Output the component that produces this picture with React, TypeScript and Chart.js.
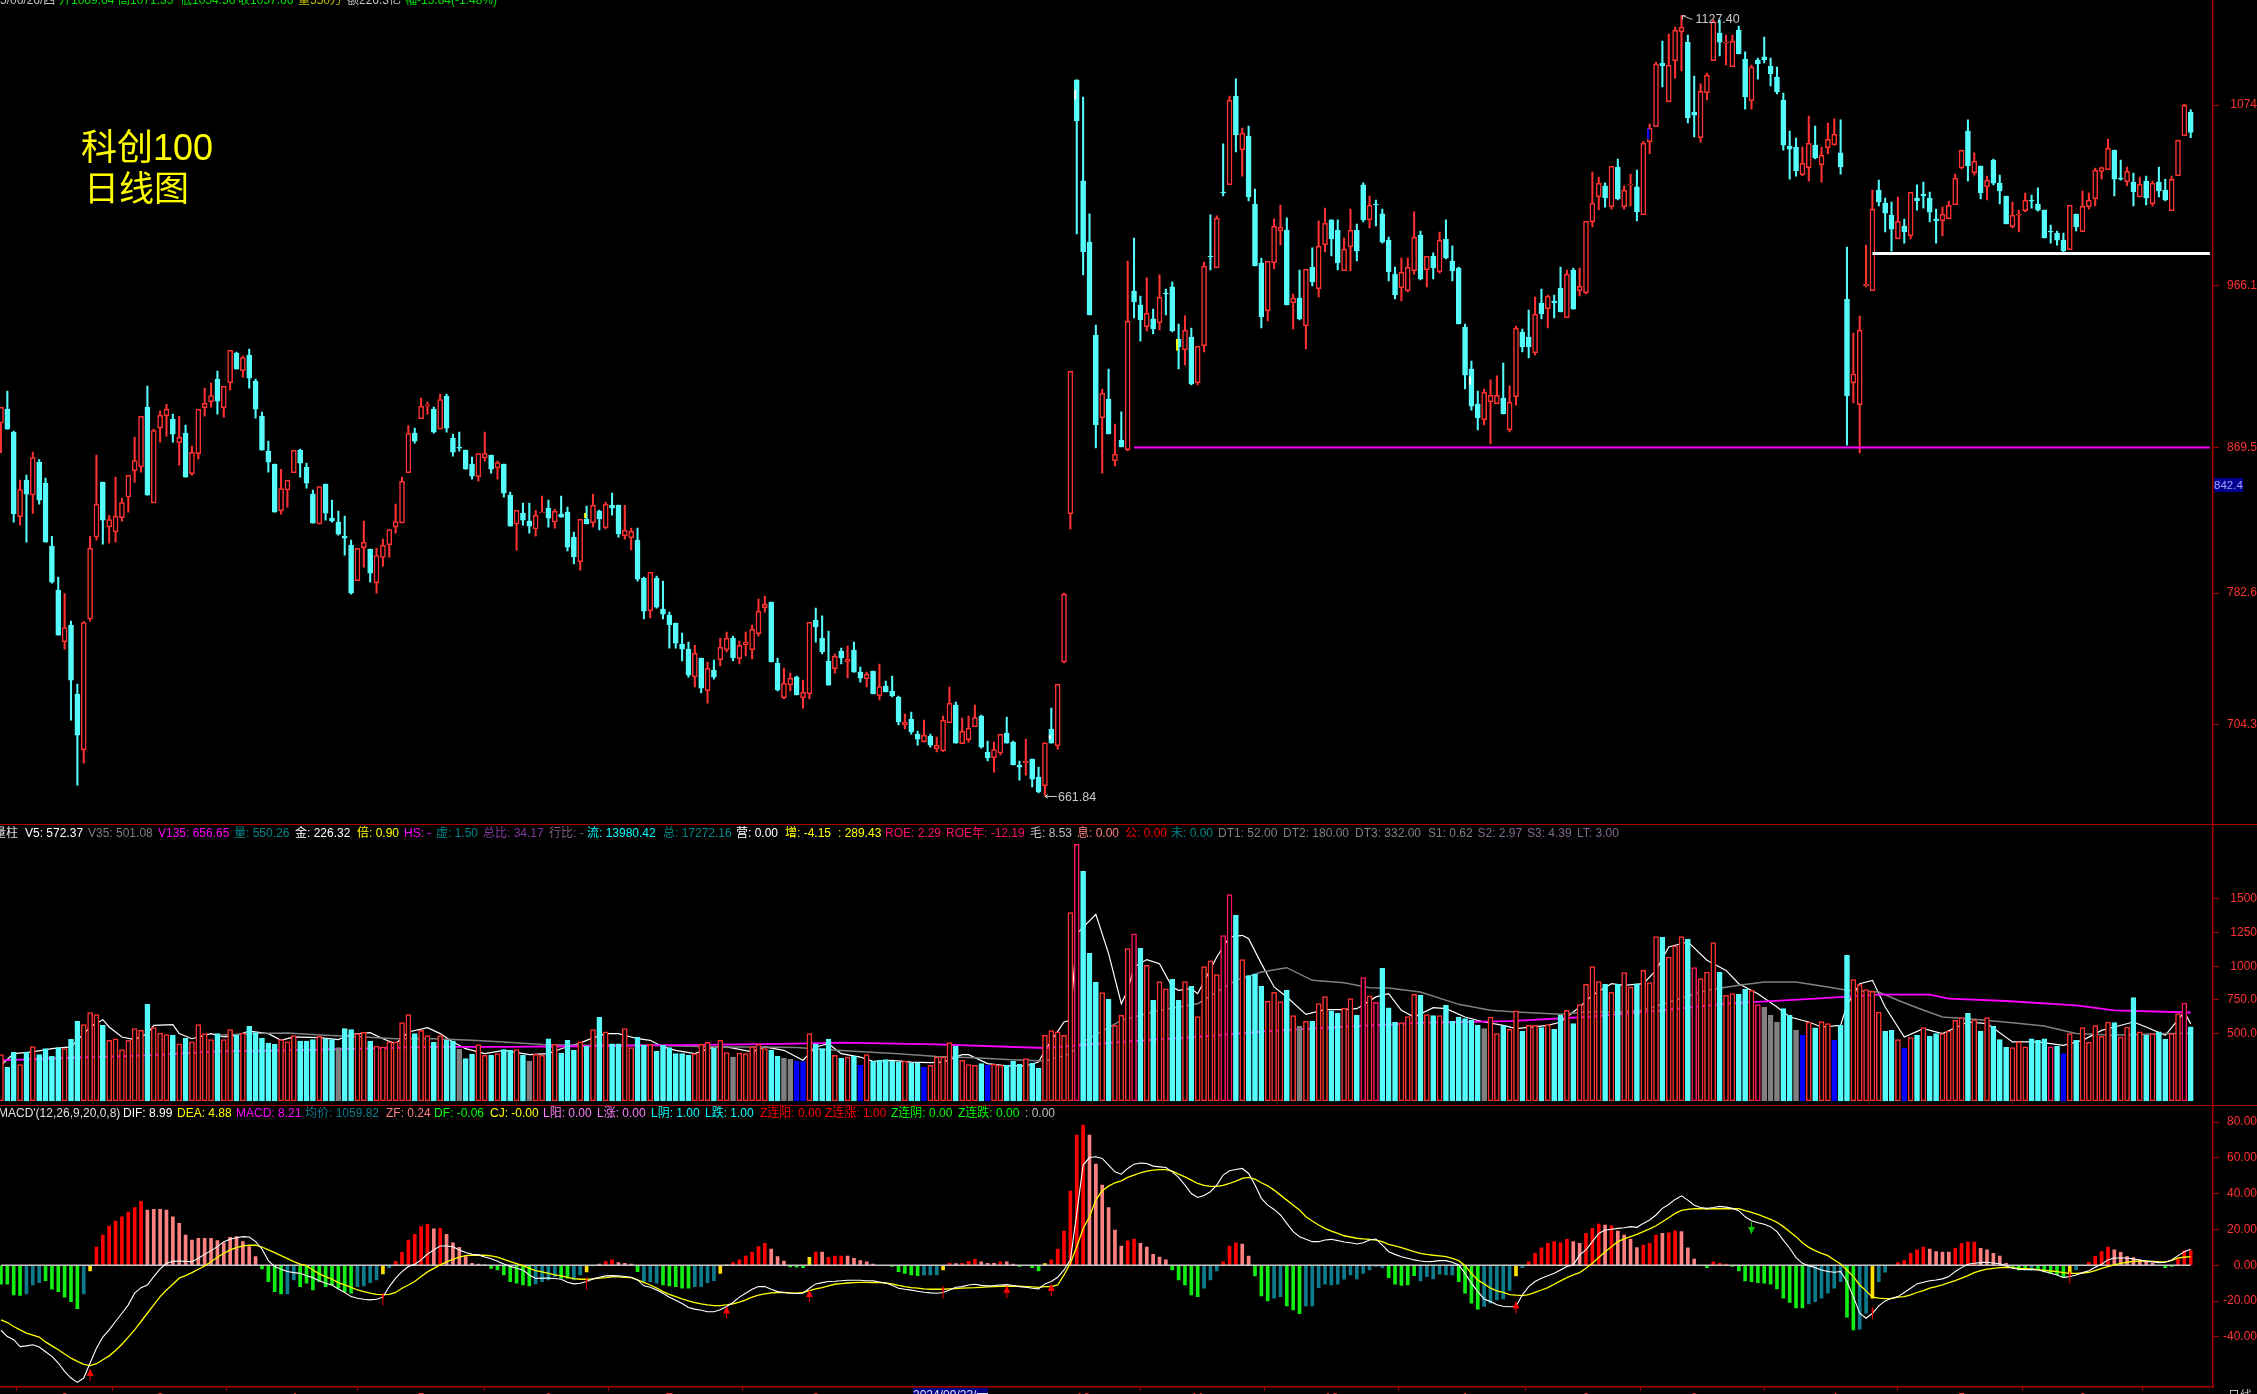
import React, { useEffect, useRef } from "react";
import { Chart, registerables } from "chart.js";

Chart.register(...registerables);

const highs = [
893.5,903.2,879.3,850.1,853.1,866.8,862.4,851.3,816.6,792.2,
782.4,765.9,728.3,765.7,816.6,865.0,848.9,829.0,851.9,839.3,
852.9,875.8,888.1,906.2,880.5,891.3,895.4,889.5,888.1,882.9,
870.4,892.3,905.0,908.0,915.2,906.0,927.5,926.5,924.1,928.3,
910.4,890.7,873.4,859.6,856.6,849.9,867.8,868.6,860.2,844.1,
846.3,847.7,838.1,831.6,828.6,814.3,809.3,825.6,808.9,809.5,
814.9,820.6,835.8,851.9,882.7,881.1,899.0,896.6,893.7,901.4,
901.4,877.5,878.7,868.0,863.8,866.0,878.7,865.0,861.4,859.6,
842.9,832.0,836.4,836.4,832.0,840.5,838.1,832.8,840.6,834.0,
819.1,826.7,834.6,841.8,832.2,837.0,842.4,835.2,835.0,821.5,
821.5,792.2,795.0,792.8,789.8,771.3,764.8,758.8,753.4,751.4,
743.9,741.5,742.7,755.8,759.4,757.0,754.0,759.4,763.6,779.1,
780.9,777.3,743.9,737.9,734.9,733.1,730.7,765.2,773.7,769.0,
760.0,746.3,749.8,751.0,753.4,738.5,735.5,736.1,740.3,730.1,
733.1,721.2,710.4,711.6,700.3,706.9,698.5,696.7,709.2,726.6,
717.6,708.1,709.2,715.8,709.8,694.3,693.7,698.3,708.6,694.3,
682.4,695.5,683.6,678.8,693.3,714.0,728.2,782.7,915.0,1089.0,
1078.8,1009.0,942.7,904.5,916.4,883.6,890.8,980.9,994.6,960.0,
970.8,952.2,972.6,964.2,968.4,943.3,948.1,940.9,929.9,980.3,
1008.4,1007.8,1050.8,1079.4,1089.6,1060.3,1061.5,1023.9,982.7,980.7,
1006.0,1014.3,1006.6,961.2,975.5,975.9,988.7,1004.8,1012.5,1005.4,
1005.4,994.6,1011.9,1003.0,1027.5,1019.7,1017.3,1011.9,995.2,977.3,
982.7,982.7,1010.2,998.8,983.7,985.7,998.2,1005.4,989.9,977.3,
943.3,921.2,903.3,904.5,909.9,912.3,920.0,906.3,942.1,940.3,
951.6,959.4,964.2,960.6,960.6,977.3,975.5,976.7,976.7,1004.6,
1034.0,1031.0,1027.5,1037.4,1041.8,1025.7,1032.8,1035.2,1052.3,1062.7,
1099.7,1112.2,1116.4,1120.6,1127.4,1115.8,1091.3,1086.6,1093.1,1124.8,
1124.8,1115.8,1115.8,1121.2,1105.7,1097.9,1102.1,1114.6,1102.1,1096.7,
1081.2,1058.5,1054.3,1048.9,1067.4,1061.5,1048.9,1063.3,1065.7,1065.1,
989.2,937.9,948.0,990.4,1023.3,1029.2,1018.5,1016.1,1019.1,1005.9,
1021.9,1026.3,1028.0,1022.1,1011.9,1013.1,1016.7,1032.8,1047.1,1065.1,
1045.4,1037.6,1031.6,1041.8,1032.2,1019.7,1016.1,1011.3,1021.5,1020.3,
1024.5,1011.3,1002.4,998.8,997.6,1014.1,1008.9,1022.7,1021.5,1036.4,
1037.0,1053.7,1047.1,1041.2,1037.0,1033.4,1031.0,1031.6,1028.6,1037.0,
1029.8,1031.6,1053.1,1074.4,1071.35];

const lows = [
866.4,880.5,825.0,823.2,813.1,830.2,835.8,813.1,788.6,757.5,
749.2,706.8,668.0,681.1,765.9,814.3,811.9,812.5,813.1,825.6,
831.0,848.9,854.9,841.1,836.5,872.8,876.3,872.8,859.0,851.9,
853.1,862.6,888.3,893.7,889.5,887.7,903.8,916.3,911.6,905.0,
887.1,868.0,854.9,831.0,829.8,834.0,854.5,851.9,845.3,824.4,
824.0,826.2,825.0,817.2,805.3,782.0,790.0,798.1,789.2,782.6,
798.7,804.1,818.4,824.6,854.5,872.2,886.7,889.5,878.1,880.7,
878.7,864.4,867.4,856.6,850.7,849.5,861.4,854.3,850.7,839.9,
822.6,808.3,823.2,818.4,816.6,830.6,822.0,821.4,828.0,807.8,
800.0,796.4,823.9,822.1,820.3,820.9,829.2,816.1,814.9,808.4,
789.8,767.2,767.8,773.7,767.2,749.8,749.8,742.1,732.5,726.6,
723.0,717.0,731.3,739.1,747.5,742.1,740.3,745.1,743.3,757.0,
771.3,741.5,724.2,719.6,724.2,721.8,714.0,719.4,753.4,746.3,
727.7,734.9,740.3,732.0,735.5,729.5,726.6,722.4,718.8,723.6,
720.6,703.9,701.5,698.5,691.9,693.7,690.7,687.8,688.0,705.3,
693.1,692.7,693.7,702.9,690.1,682.4,675.8,686.0,693.1,680.0,
671.0,674.0,666.9,663.3,661.84,693.1,689.5,740.9,820.9,997.0,
972.6,948.7,869.3,854.3,877.6,858.5,869.9,867.5,946.9,933.1,
939.1,937.3,939.7,948.7,938.5,916.4,918.8,906.9,906.9,926.6,
975.5,976.9,1019.7,1026.5,1046.0,1031.6,1016.7,977.9,940.9,945.1,
976.1,990.5,954.6,940.3,945.7,928.4,966.0,959.4,986.3,983.9,
975.5,975.1,974.9,980.9,1004.2,1000.6,1001.8,991.6,969.0,958.2,
957.0,962.4,973.1,969.6,965.4,970.2,973.7,982.1,969.0,943.3,
904.5,891.9,880.0,883.0,871.7,895.7,889.6,878.8,894.9,926.6,
923.0,924.8,946.3,940.9,946.9,950.5,947.1,952.2,960.0,961.2,
1001.2,1011.4,1013.1,1011.9,1017.3,1011.9,1013.7,1004.8,1008.5,1045.0,
1061.1,1084.8,1076.0,1090.1,1094.3,1063.3,1054.9,1051.9,1077.0,1100.5,
1103.3,1097.9,1096.9,1104.5,1071.6,1071.6,1089.5,1099.1,1085.4,1080.6,
1047.1,1029.8,1031.6,1031.8,1028.6,1041.8,1028.0,1044.8,1050.1,1032.8,
871.0,896.1,866.3,965.4,963.2,1013.7,998.2,986.8,994.0,991.6,
994.0,1011.3,1012.5,1004.2,991.6,995.8,1006.0,1014.5,1035.8,1028.6,
1032.2,1017.9,1017.3,1026.3,1014.9,1003.0,1000.6,998.2,1010.3,1012.5,
1010.7,994.6,991.6,990.4,986.3,987.6,998.8,998.4,1011.9,1013.7,
1029.8,1035.4,1019.7,1029.2,1025.7,1013.7,1019.1,1014.3,1013.7,1019.1,
1016.7,1010.9,1031.8,1055.7,1054.56];

const bodyTops = [
893.5,892.5,878.7,844.5,850.1,863.6,860.8,848.3,810.7,784.4,
762.1,763.5,722.3,765.1,809.3,835.6,848.9,826.6,828.4,836.7,
852.9,861.8,888.1,893.7,879.7,888.7,892.3,886.5,875.6,878.1,
866.6,892.3,895.9,900.6,910.4,906.0,927.5,925.9,923.3,924.7,
909.2,888.3,867.4,859.6,845.1,849.9,867.8,868.0,857.8,841.7,
846.3,847.7,827.4,825.0,816.6,811.3,809.3,812.9,808.9,805.1,
811.1,820.6,825.4,849.3,877.9,878.1,894.1,894.9,892.5,898.2,
900.2,875.2,869.8,868.0,859.6,866.0,866.0,865.0,860.6,859.6,
841.1,832.0,830.4,825.6,829.0,831.0,833.4,831.4,829.8,831.0,
816.1,826.7,826.9,835.0,831.6,835.6,835.0,835.2,820.1,819.5,
814.3,791.6,795.0,791.6,773.1,769.5,764.8,752.2,749.2,746.7,
743.9,737.7,736.7,750.2,755.6,755.8,751.4,753.2,761.0,771.7,
775.9,777.3,740.9,728.8,731.7,732.5,723.4,765.2,766.6,755.8,
742.1,744.9,748.0,743.1,748.6,735.5,734.1,736.1,726.9,727.2,
724.2,720.6,705.5,707.5,698.5,697.7,697.3,691.7,706.7,716.8,
715.8,700.1,701.9,708.4,709.2,687.8,689.3,698.3,699.1,693.7,
680.0,682.2,683.6,672.8,693.3,701.5,728.2,781.9,915.0,1089.0,
1028.7,992.2,936.7,901.9,898.5,865.5,874.0,944.9,963.0,954.6,
949.7,946.3,959.2,961.8,965.4,934.3,939.5,935.5,929.9,977.7,
983.9,1006.4,1022.1,1076.8,1079.4,1057.1,1055.5,1014.9,979.7,980.7,
1001.6,1001.0,999.4,958.8,958.8,975.9,977.3,989.7,1003.4,1005.4,
999.4,987.9,999.2,999.4,1026.3,1014.1,1014.9,1009.0,993.4,973.1,
974.1,977.1,995.0,996.4,983.7,983.9,993.2,994.0,980.9,976.7,
941.5,916.4,895.5,902.5,900.7,900.7,899.1,896.5,940.7,938.5,
935.5,949.1,955.8,959.8,957.0,964.8,972.9,975.5,965.8,1004.6,
1015.3,1027.3,1025.7,1037.4,1037.0,1023.1,1026.7,1025.1,1051.1,1060.1,
1098.5,1098.9,1097.7,1118.6,1120.4,1111.6,1069.8,1082.2,1091.7,1123.6,
1117.0,1111.6,1112.0,1118.8,1101.5,1096.7,1100.9,1102.7,1097.3,1090.7,
1077.0,1049.5,1048.9,1039.2,1051.1,1050.1,1044.0,1053.5,1056.5,1045.4,
958.2,913.4,939.5,966.9,1011.7,1023.3,1015.5,1008.3,1004.6,1001.8,
1021.9,1018.5,1020.9,1018.5,1006.0,1008.7,1014.1,1030.2,1046.9,1058.5,
1040.4,1037.6,1029.0,1041.2,1027.4,1019.7,1008.1,1008.7,1017.1,1017.3,
1014.9,1011.3,998.8,997.6,993.4,1014.1,1008.9,1013.5,1017.1,1035.0,
1036.6,1048.1,1047.1,1030.4,1034.4,1028.0,1026.7,1028.6,1027.3,1028.0,
1023.3,1029.6,1052.9,1073.8,1069.64];

const bodyBottoms = [
884.3,880.5,830.0,828.2,841.7,841.3,838.1,813.1,789.2,757.5,
753.6,730.7,697.8,689.1,767.3,816.2,826.2,822.2,819.2,827.6,
840.1,855.7,858.0,841.1,836.5,881.3,888.5,877.5,872.4,851.9,
853.9,865.8,893.3,896.9,897.2,893.3,908.2,916.3,915.4,911.0,
892.5,868.0,860.8,831.0,831.8,844.3,854.5,860.2,848.3,824.4,
824.0,830.4,825.6,817.8,815.5,782.6,790.0,809.7,794.6,788.8,
803.9,811.5,822.2,824.6,854.5,873.4,886.7,894.3,878.7,880.7,
881.1,866.8,869.2,856.6,852.5,852.1,863.4,856.6,857.4,842.3,
822.6,824.0,826.2,822.6,821.0,830.6,827.4,825.2,828.0,810.1,
804.2,801.4,823.9,824.7,826.9,821.7,833.4,817.9,816.9,815.7,
791.0,771.9,772.1,774.3,770.1,763.6,752.8,749.2,733.7,732.7,
725.9,724.4,732.5,742.9,748.8,743.9,743.5,751.8,748.8,758.4,
773.9,741.5,724.8,720.2,727.9,721.8,720.2,722.6,762.4,747.5,
727.7,737.5,743.9,741.7,735.5,731.9,731.5,722.4,721.4,723.6,
721.2,705.7,704.1,699.7,695.5,693.9,691.9,689.7,688.6,705.3,
693.1,692.7,695.1,702.9,690.7,684.2,684.4,687.2,693.1,680.0,
678.8,681.4,671.6,663.9,667.7,693.1,691.5,741.5,830.0,1064.5,
986.3,948.7,883.0,887.4,877.6,861.7,869.9,868.3,956.4,945.7,
941.7,940.3,944.1,961.2,939.1,929.6,927.9,907.5,908.3,930.4,
983.3,976.9,1021.5,1026.5,1056.1,1047.4,1019.1,977.9,947.5,951.2,
979.9,998.8,954.6,956.0,946.3,942.3,968.4,964.4,990.7,994.0,
979.7,975.1,989.5,986.9,1005.4,1005.6,1014.3,992.2,974.3,960.6,
965.0,963.2,975.1,970.2,975.7,976.7,974.5,982.7,974.9,943.3,
912.8,894.3,887.2,886.2,896.9,895.7,889.6,880.2,899.9,929.6,
929.6,926.2,949.3,952.4,955.8,950.5,947.1,952.2,963.2,962.0,
1004.4,1019.3,1018.5,1013.3,1017.9,1013.3,1026.3,1010.2,1008.5,1052.1,
1061.1,1097.3,1076.0,1100.5,1117.8,1066.3,1068.0,1054.5,1081.4,1100.5,
1111.6,1111.0,1096.9,1104.5,1078.8,1076.6,1098.5,1100.9,1092.5,1081.8,
1050.1,1047.7,1034.6,1032.4,1036.6,1042.4,1038.4,1048.5,1050.3,1037.0,
900.3,908.2,895.1,966.1,963.2,1016.1,1009.5,999.9,994.2,998.2,
996.0,1016.7,1019.7,1010.1,1004.8,1005.0,1006.2,1014.5,1036.4,1037.6,
1033.6,1021.5,1025.3,1027.4,1022.7,1003.0,1001.4,1008.3,1010.9,1016.7,
1011.3,994.6,998.2,993.4,986.9,987.6,1001.2,998.4,1013.3,1018.1,
1034.4,1035.4,1029.8,1029.8,1028.2,1022.1,1019.1,1018.5,1015.1,1022.7,
1017.3,1010.9,1031.8,1055.7,1057.66];

const candleKinds = (
"UDDUDUDDDD UDDUUUDUUU UUUDUUUDUD UUUUDUUDUD DDDDUUUDDD UDDDDDUUDU UUUUUDUUDU DDDDDUUDUD DUDDUUDUDD DUDUDUDDUU "+
"DDUDDDDDDU DUDUUDUUUU UDDUUDUUDD DUDUDDUDUD DDUDDUDUUU DUUUDDUUDD DUDDUDUUUD DDDUDUDUDD UDUDDDUDUU DUDUDUDDDU "+
"UUDUDUDUUD DUUDDUDDDD UUUDUDUDDD DDDUUUDUUD DUDUDDUDUU UUDUDUUDUU UDUUUDDUUU DUUDDUDDDD DDDUUDUUUD DUUUUDDDUD "+
"UDDDDUUUUD UDUDDDUUUD DDDDDUDUUU UUDDUDUDUD DUUUD").replace(/ /g, "").split("");

const volumes = [
344,250,361,270,361,403,344,388,331,396,
388,457,591,566,655,641,561,450,462,381,
450,537,524,717,544,504,492,487,425,467,
438,566,500,455,500,455,529,487,504,554,
507,467,430,420,455,438,485,445,445,455,
480,462,455,396,537,529,500,509,443,408,
401,438,438,581,641,500,524,485,435,485,
450,445,383,314,346,418,339,339,351,381,
376,381,339,297,346,339,462,420,356,450,
376,438,406,529,621,514,425,425,537,396,
472,413,420,368,413,396,351,351,339,351,
420,435,391,450,359,326,356,351,401,420,
388,376,331,319,309,297,292,500,420,388,
457,339,319,326,331,265,344,294,302,307,
294,289,297,284,284,252,265,326,326,433,
406,302,270,265,277,265,272,265,265,294,
272,314,282,245,487,522,514,487,1397,1904,
1704,1096,880,804,754,561,636,1130,1241,1133,
1007,747,885,833,903,747,885,851,626,997,
1039,937,1227,1531,1377,1049,930,940,851,739,
806,737,821,633,554,591,591,722,774,668,
653,690,759,636,915,781,732,984,692,584,
581,626,791,784,641,633,633,710,591,623,
611,598,561,537,623,500,559,532,668,517,
561,561,544,566,532,636,673,574,715,866,
997,885,866,806,866,952,846,870,969,878,
1219,1214,1068,1152,1219,1199,989,908,957,1175,
955,784,796,791,828,821,715,695,636,586,
685,636,524,487,586,542,589,574,450,561,
1081,900,863,826,814,660,517,524,455,391,
470,487,544,480,500,500,519,598,618,650,
603,517,618,554,455,398,396,438,401,462,
450,462,401,406,351,500,450,544,435,559,
480,586,581,475,549,767,514,487,500,514,
457,500,648,727,550.26];

const volumeKinds = (
"rccrcrcccc rccrrrcrrr rrrcrrrcrc rrrrcrrcrc ccccrrrccc rccgccrrcr rrrrrcrrcr ccgccrrcrc crcgrrcrcc crcrcrccrr "+
"ccrccccccr rrcrrgrrrr rccggbbrcc crcrcbrccc ccrccbrrrr crrrcbrrcc crccrrrr rpcccrcrrr pcrcrrccrc rrrrppcrcc "+
"crrrcrgrcr rccrrcprpc ccrrrcrcrc cccccgrrcr rcrrcrccrc rrrrcrcrrc rrrcrrrcpr rrcrrccrpg ggccgbrcrr bccrrrrrcc "+
"rbrcrccrrr rcrcrcccrr rcccpcbrcr rrrrcrrcrc rccrrpc").replace(/ /g, "").split("");

const v5Index = [0,2,5,8,11,12,14,16,17,19,21,23,24,27,28,30,33,35,37,39,42,44,46,50,53,55,58,60,62,64,67,69,71,73,76,79,83,86,88,91,92,95,97,100,102,104,106,109,112,114,118,120,123,125,126,128,130,132,135,137,140,143,146,148,151,152,155,158,161,163,164,167,168,169,172,174,176,177,178,180,182,184,185,187,188,191,193,195,196,198,200,202,205,208,211,213,216,218,220,222,225,227,230,233,236,238,243,245,248,250,253,255,258,260,262,265,268,271,273,276,279,281,284,286,289,290,292,294,296,299,302,305,309,312,316,320,324,327,330,332,335,337,340,343,344];
const v5Values = [265,351,364,388,401,450,549,603,549,475,455,500,561,566,500,462,500,475,487,519,500,450,475,470,455,495,507,462,425,512,544,500,438,388,351,376,344,351,388,430,450,500,500,462,450,401,376,351,401,401,364,401,376,326,302,401,425,351,326,294,302,289,284,289,344,344,277,260,260,289,376,586,598,1241,1385,1093,722,821,994,1049,1019,846,821,833,796,1068,1217,1229,1204,1019,846,772,643,678,678,685,772,796,673,623,692,685,623,586,561,537,561,586,697,784,870,858,870,969,1143,1180,1044,969,870,796,697,623,586,549,561,710,870,895,697,475,537,500,586,574,438,438,413,450,524,549,586,549,487,660,572.37];

const v35Index = [34,40,45,51,57,62,68,74,79,85,91,96,102,108,113,119,125,130,136,141,147,153,158,164,168,170,176,182,188,194,198,202,206,211,215,218,223,229,234,238,245,249,254,258,263,268,273,277,282,287,290,295,298,301,305,310,316,321,326,332,340,344];
const v35Values = [487,500,504,487,475,462,462,450,438,420,413,413,413,406,401,401,396,381,364,351,331,321,307,297,351,438,598,673,722,895,957,989,895,878,841,838,809,717,673,660,643,660,660,673,747,821,858,883,883,846,821,809,747,692,623,606,581,556,500,487,500,501.08];

const v135Index = [0,11,23,34,45,57,68,79,91,102,113,125,132,147,164,176,188,199,212,224,237,249,261,271,285,295,303,306,315,326,332,344];
const v135Values = [302,321,339,368,376,388,401,401,406,413,418,425,433,420,393,438,475,519,554,581,593,623,673,722,759,789,789,759,742,710,673,656.65];

const histValues = [
-10.6,-10.6,-16.5,-16.9,-16.0,-11.0,-9.7,-8.6,-13.4,-14.7,
-17.8,-20.3,-24.3,-16.0,-3.2,10.2,16.9,21.9,24.7,27.1,
29.7,32.2,35.7,30.9,31.2,31.2,30.9,27.1,23.4,16.9,
14.1,15.1,15.1,15.1,13.8,12.6,15.6,16.0,13.2,10.4,
4.8,-2.0,-9.1,-14.7,-16.0,-16.0,-8.2,-11.9,-10.0,-13.8,
-9.1,-11.9,-11.0,-12.8,-14.7,-15.6,-11.9,-11.5,-9.7,-8.2,
-4.8,-1.3,2.2,7.2,14.1,17.3,21.6,22.9,20.4,20.6,
17.3,12.6,10.0,4.8,1.1,0.7,0.1,-1.7,-2.6,-5.4,
-9.1,-10.0,-11.0,-11.5,-10.4,-9.1,-8.2,-6.3,-7.2,-7.2,
-8.2,-5.4,-3.7,-0.4,0.7,2.2,3.0,1.5,1.1,0.7,
-3.5,-9.1,-9.1,-10.0,-11.0,-11.5,-11.9,-12.8,-12.8,-11.9,
-11.9,-9.7,-8.6,-4.5,0.1,1.5,3.0,5.2,7.4,10.4,
12.3,9.1,4.8,2.4,-0.9,-1.1,-1.3,4.5,7.4,7.4,
4.5,5.2,5.2,5.2,3.9,2.6,2.0,0.7,0.0,0.0,
-0.7,-3.5,-4.5,-5.4,-5.8,-5.4,-5.4,-5.4,-2.6,1.1,
0.9,1.1,2.2,3.3,1.9,1.1,1.1,1.9,1.9,0.7,
-0.7,0.0,-1.3,-3.2,0.9,3.0,9.1,19.1,41.4,72.7,
78.3,72.7,56.5,44.8,32.2,19.7,10.8,13.6,14.7,12.3,
10.2,6.1,4.6,3.0,-2.6,-8.2,-11.0,-16.5,-17.5,-12.8,
-8.2,-3.2,1.9,10.8,12.5,11.9,5.2,-5.9,-17.1,-19.9,
-18.4,-17.5,-22.7,-24.9,-27.1,-22.7,-22.7,-12.5,-10.6,-11.0,
-10.6,-7.8,-5.4,-7.6,-4.5,-2.6,-0.7,-1.3,-6.9,-10.6,
-11.3,-11.0,-5.8,-8.7,-6.3,-7.6,-5.0,-5.4,-5.4,-9.1,
-15.6,-21.2,-24.5,-23.0,-21.2,-19.3,-18.8,-14.1,-5.9,-1.3,
1.9,6.7,9.7,12.3,13.2,12.6,14.5,13.2,12.3,17.8,
20.6,23.0,22.5,22.1,19.1,16.9,14.5,9.9,11.3,12.3,
16.9,17.8,18.2,19.3,18.8,9.7,3.5,0.0,-1.3,1.9,
1.1,0.7,-0.6,-3.2,-8.7,-9.1,-9.7,-10.0,-10.6,-13.2,
-18.4,-20.8,-23.8,-23.8,-21.6,-20.3,-18.4,-15.6,-12.8,-9.1,
-29.0,-36.1,-35.7,-26.8,-18.4,-9.1,-3.9,0.0,1.5,2.6,
6.7,8.6,10.2,9.1,7.6,7.4,7.4,9.5,12.3,13.0,
13.0,9.5,8.6,6.7,5.2,1.1,-1.3,-2.6,-1.7,-2.6,
-2.0,-3.7,-4.5,-5.4,-6.3,-4.5,-2.6,0.0,1.7,5.0,
7.6,10.2,8.6,7.2,4.8,4.3,3.0,1.9,1.1,0.0,
-1.3,-0.6,3.5,8.2,8.21];

const histRuns: [string, number][] = [
["g",4],["t",3],["g",6],["t",1],["y",1],["R",8],["S",18],["g",4],["t",2],["g",9],["t",4],["y",1],["t",1],["R",6],["S",1],["R",1],["S",7],
["g",7],["t",4],["g",2],["t",2],["y",1],["t",1],["S",1],["R",2],["S",3],["g",1],["t",3],["g",5],["t",4],["y",1],["S",1],["R",6],["S",3],
["g",3],["y",1],["R",1],["S",1],["R",3],["S",5],["g",7],["t",3],["y",1],["R",1],["S",1],["R",3],["S",3],["R",1],["S",2],["g",4],["y",1],
["R",6],["S",6],["R",2],["S",5],["g",5],["t",3],["R",3],["S",2],["g",3],["t",2],["g",3],["t",13],["g",5],["t",6],["g",4],["t",5],["y",1],["t",1],
["R",7],["S",2],["R",3],["S",1],["R",1],["S",4],["R",3],["S",1],["R",2],["S",3],["g",2],["R",3],["g",12],["t",6],["g",2],["t",2],["y",1],["t",2],["g",1],
["R",5],["S",4],["R",4],["S",5],["g",3],["t",1],["g",5],["y",1],["t",1],["g",1],["R",4],["S",7],["g",3],["R",3]];

const difValues = [
-36.3,-39.8,-41.6,-45.4,-45.0,-44.4,-45.7,-48.3,-50.9,-54.6,
-59.3,-63.0,-65.4,-63.0,-54.6,-46.3,-40.1,-36.1,-31.4,-26.8,
-22.1,-15.6,-12.5,-11.0,-6.3,-2.0,1.1,2.2,2.4,2.2,
2.0,3.9,6.1,8.2,10.4,13.2,14.5,15.4,16.0,15.8,
13.2,9.1,2.6,-0.7,-2.2,-3.5,-4.1,-4.5,-5.8,-6.9,
-8.7,-10.0,-11.0,-13.2,-15.2,-17.5,-18.4,-19.0,-19.3,-19.0,
-17.8,-11.9,-7.2,-3.5,-0.7,0.6,3.0,6.3,8.6,10.8,
10.8,10.4,8.6,7.1,6.1,5.8,4.6,3.7,2.2,0.7,
-0.6,-1.7,-2.6,-5.4,-7.4,-7.2,-7.2,-7.4,-7.8,-9.5,
-10.4,-10.0,-9.1,-7.6,-6.7,-5.9,-5.8,-5.9,-6.3,-6.7,
-8.2,-11.5,-12.3,-13.8,-15.6,-17.8,-19.5,-21.4,-23.6,-24.5,
-25.1,-26.0,-26.0,-24.9,-23.0,-20.8,-17.8,-15.6,-13.4,-11.9,
-11.9,-13.4,-14.7,-15.2,-15.6,-15.8,-15.6,-12.8,-10.4,-9.7,
-9.1,-8.9,-8.6,-8.4,-8.4,-8.4,-8.6,-8.7,-9.3,-9.9,
-11.2,-12.8,-13.4,-13.9,-14.5,-15.1,-15.4,-15.6,-15.2,-13.8,
-12.3,-11.9,-11.0,-10.6,-11.2,-11.5,-11.3,-11.0,-10.8,-11.3,
-11.9,-12.3,-12.8,-13.2,-10.4,-9.1,-6.7,-2.6,3.0,29.0,
56.0,60.2,60.6,59.7,56.0,52.2,50.9,54.1,56.5,57.1,
56.9,55.4,55.0,54.6,52.2,49.1,44.8,40.1,37.9,39.0,
41.1,44.8,50.4,52.8,53.5,54.1,51.3,44.8,37.4,33.6,
31.2,28.1,23.4,18.8,16.0,14.5,13.2,13.2,14.1,14.5,
13.8,13.0,12.6,11.9,12.6,14.1,14.7,11.3,7.6,6.1,
4.8,3.9,3.0,2.4,2.0,2.2,2.6,2.6,1.7,0.2,
-4.5,-10.0,-14.7,-18.8,-20.3,-22.1,-22.9,-23.2,-23.0,-16.5,
-11.9,-9.1,-7.2,-5.9,-4.5,-2.6,-0.7,0.2,5.8,8.6,
13.2,17.8,19.7,20.1,20.6,21.0,21.6,21.2,23.4,25.3,
28.1,31.8,34.0,36.8,38.8,36.4,33.6,32.3,31.8,32.3,
32.9,32.5,31.8,30.5,27.1,24.9,23.8,22.9,21.6,18.8,
14.1,9.5,4.3,1.1,-0.2,-1.3,-2.6,-3.5,-3.9,-3.5,
-9.1,-17.5,-26.8,-29.6,-26.8,-22.7,-19.9,-18.4,-17.5,-15.2,
-12.8,-10.4,-9.5,-8.6,-8.2,-7.6,-6.3,-3.5,-1.3,0.6,
1.1,1.5,1.7,1.3,0.9,-0.2,-1.7,-2.2,-2.4,-2.4,
-2.6,-3.5,-4.5,-5.4,-6.9,-6.3,-5.4,-4.1,-3.0,-1.1,
0.6,3.0,4.1,4.1,4.1,3.5,3.0,2.2,1.9,1.5,
1.7,3.0,5.4,7.6,8.99];

const deaValues = [
-30.5,-32.0,-34.2,-36.1,-37.9,-39.0,-40.1,-42.8,-45.0,-47.2,
-49.6,-51.9,-53.7,-55.4,-56.1,-55.0,-52.8,-50.6,-47.6,-44.1,
-40.1,-36.1,-31.4,-26.8,-22.1,-17.5,-13.8,-10.6,-7.2,-5.8,
-4.1,-2.2,-0.4,2.0,4.5,6.7,8.6,9.9,10.8,11.2,
11.2,10.2,8.6,7.1,5.4,3.7,2.0,0.6,-0.2,-2.6,
-4.8,-6.3,-7.8,-9.7,-11.0,-12.3,-13.8,-14.7,-15.6,-16.2,
-16.4,-16.2,-15.2,-12.8,-11.0,-9.1,-6.3,-3.7,-1.7,0.2,
1.9,3.3,4.5,5.4,5.6,5.6,5.6,5.2,4.5,3.3,
2.0,0.9,-0.2,-1.7,-3.0,-3.7,-4.5,-5.4,-5.9,-6.7,
-7.4,-7.8,-7.8,-7.6,-7.2,-6.9,-6.5,-6.5,-6.7,-6.9,
-8.2,-9.5,-11.0,-12.8,-14.7,-16.2,-17.5,-18.8,-19.9,-20.8,
-21.6,-22.1,-22.5,-22.5,-22.1,-21.6,-20.6,-19.3,-17.8,-16.7,
-16.0,-15.4,-15.2,-15.2,-15.4,-15.6,-15.2,-14.1,-13.2,-12.5,
-11.5,-10.6,-10.2,-9.9,-9.7,-9.5,-9.5,-9.7,-9.7,-9.9,
-10.4,-11.2,-11.9,-12.5,-12.8,-13.2,-13.4,-13.4,-13.4,-13.2,
-13.0,-12.8,-12.6,-12.5,-12.3,-12.1,-11.9,-11.7,-11.7,-11.7,
-11.7,-11.9,-12.1,-12.3,-11.9,-11.9,-11.0,-5.4,1.1,10.4,
20.6,27.1,36.4,41.6,44.2,46.1,47.2,49.1,50.4,51.7,
52.6,53.2,53.5,53.5,52.6,50.9,49.4,47.6,45.7,44.6,
44.1,44.1,44.6,45.7,47.0,48.5,49.1,48.1,46.1,44.4,
42.0,39.2,36.4,33.6,30.9,27.1,24.7,22.5,20.6,19.1,
17.8,16.5,15.8,15.1,14.7,14.5,14.1,13.2,11.7,10.8,
9.9,8.7,7.6,6.7,6.1,5.6,5.2,4.8,3.9,2.6,
-0.2,-4.5,-8.2,-10.4,-12.8,-14.3,-15.2,-16.4,-16.7,-16.9,
-16.4,-15.1,-13.8,-12.5,-10.6,-8.7,-6.9,-5.4,-4.1,-1.7,
1.1,4.3,7.6,10.4,13.2,14.7,16.0,17.3,18.8,20.3,
22.1,24.3,26.6,29.0,30.7,31.2,31.6,31.6,31.4,31.6,
31.6,31.6,31.6,31.6,30.5,29.6,28.4,27.1,25.7,24.0,
21.6,18.8,16.0,12.6,10.0,8.2,6.7,5.4,3.0,0.7,
-2.6,-6.3,-11.0,-14.3,-17.8,-18.4,-18.6,-18.6,-17.8,-17.5,
-16.5,-15.2,-14.1,-12.8,-11.9,-11.0,-9.7,-8.6,-7.2,-5.8,
-4.1,-3.0,-2.2,-1.7,-1.3,-1.1,-1.3,-1.7,-1.9,-2.0,
-2.4,-2.8,-3.2,-3.5,-4.1,-4.5,-4.5,-4.3,-3.9,-3.0,
-1.7,-0.7,0.2,1.1,1.7,2.2,2.4,2.4,2.2,2.0,
1.9,2.6,4.1,4.5,4.88];

const priceTicks = [1074, 966.1, 869.5, 782.6, 704.3];
const volumeTicks = [500, 750, 1000, 1250, 1500];
const volumeTickLabels = ["500.0", "750.0", "1000", "1250", "1500"];
const macdTicks = [-40, -20, 0, 20, 40, 60, 80];
const monthTickIndex = [10, 25, 46, 66, 86, 105, 128, 170, 188, 209, 230, 249, 266, 288, 308, 327];
const monthTickLabels = ["2", "3", "4", "5", "6", "7", "8", "10", "11", "12", "1", "2", "3", "4", "5", "6"];

const supportLevel = 869.5;
const resistanceLevel = 985.4;
const upArrowIndex = [14, 60, 92, 114, 127, 148, 158, 165, 238, 294, 325];
const upArrowTip = [-58, -15.6, -6.9, -23, -13.8, -11.9, -11.5, -10.4, -20.3, -23.4, -3.5];
const upArrowBig = [1, 0, 0, 1, 1, 0, 1, 1, 1, 0, 0];
const downArrowIndex = [275];
const downArrowTip = [17.5];
const tagIndex = [92, 165, 169, 185, 231, 259];
const tagTop = [830.4, 697.9, 1083, 934.3, 911.9, 1060];
const tagBottom = [827.4, 695.5, 1077.4, 927.4, 907, 1053.6];
const tagColor = ["#ffff00", "#ffffff", "#ffffff", "#ffff00", "#ffffff", "#0000ff"];

const SLOTS = 348;
const labels = Array.from({ length: SLOTS }, (_, i) => i);

const RED = "#ff3232";
const CYAN = "#54fcfc";
const AXIS = "#a80000";
const FONT = '"Liberation Sans","Noto Sans CJK SC",sans-serif';

const expand = (runs: [string, number][]) => runs.flatMap(([k, n]) => Array(n).fill(k));
const histKinds = expand(histRuns);
const histColor: Record<string, string> = { R: "#ff0000", S: "#ff8080", g: "#11ee11", t: "#0d7c8c", y: "#ffe000" };
const pairs = (idx: number[], vals: number[]) => idx.map((x, i) => ({ x, y: vals[i] }));

const CANVAS_W = 2261;
const base = {
  responsive: false,
  animation: false,
  devicePixelRatio: 1,
  events: [],
  plugins: { legend: { display: false }, tooltip: { enabled: false } },
};

function yAxis(ticks: number[], fmt: (v: number) => string, min: number, max: number, pad: number) {
  return {
    position: "right",
    min,
    max,
    afterFit: (s: any) => { s.width = 44; s.paddingTop = 0; s.paddingBottom = 0; },
    afterBuildTicks: (s: any) => { s.ticks = ticks.map((value) => ({ value })); },
    ticks: {
      callback: (v: number) => fmt(v),
      color: RED,
      font: { size: 12, family: FONT },
      padding: pad,
      crossAlign: "far",
      autoSkip: false,
    },
    grid: { drawOnChartArea: false, color: AXIS, tickLength: 6, drawTicks: true },
    border: { color: AXIS, width: 1.5 },
  };
}

const priceMarks = {
  id: "priceMarks",
  afterDatasetsDraw(chart: any) {
    const { ctx, scales } = chart;
    const { x, y } = scales;
    ctx.save();
    tagIndex.forEach((t, i) => {
      ctx.fillStyle = tagColor[i];
      const top = y.getPixelForValue(tagTop[i]);
      ctx.fillRect(x.getPixelForValue(t) - 2.5, top, 2, y.getPixelForValue(tagBottom[i]) - top);
    });
    ctx.strokeStyle = "#c8c8c8";
    ctx.fillStyle = "#c8c8c8";
    ctx.font = `12.5px ${FONT}`;
    ctx.textBaseline = "middle";
    const lx = x.getPixelForValue(164);
    const ly = y.getPixelForValue(661.84);
    ctx.lineWidth = 1;
    ctx.beginPath();
    ctx.moveTo(lx, ly + 1);
    ctx.lineTo(lx + 12, ly + 1);
    ctx.moveTo(lx + 3, ly - 1);
    ctx.lineTo(lx, ly + 1);
    ctx.lineTo(lx + 3, ly + 3);
    ctx.stroke();
    ctx.fillText("661.84", lx + 13, ly + 2);
    const hx = x.getPixelForValue(264);
    const hy = y.getPixelForValue(1127.4);
    ctx.beginPath();
    ctx.moveTo(hx + 1, hy);
    ctx.lineTo(hx + 11, hy + 4);
    ctx.moveTo(hx + 1, hy);
    ctx.lineTo(hx + 1, hy + 4);
    ctx.moveTo(hx + 1, hy);
    ctx.lineTo(hx + 4, hy);
    ctx.stroke();
    ctx.fillText("1127.40", hx + 14, hy + 4);
    ctx.restore();
  },
};

const macdArrows = {
  id: "macdArrows",
  afterDatasetsDraw(chart: any) {
    const { ctx, scales } = chart;
    const { x, ym } = scales;
    const arrow = (idx: number, tip: number, dir: number, big: boolean, color: string) => {
      const px = x.getPixelForValue(idx);
      const py = ym.getPixelForValue(tip);
      ctx.strokeStyle = color;
      ctx.fillStyle = color;
      ctx.lineWidth = 1;
      ctx.beginPath();
      ctx.moveTo(px, py);
      ctx.lineTo(px, py + dir * 12);
      ctx.stroke();
      const hw = big ? 3.5 : 1.5;
      const hh = big ? 7 : 4;
      ctx.beginPath();
      ctx.moveTo(px, py);
      ctx.lineTo(px - hw, py + dir * hh);
      ctx.lineTo(px + hw, py + dir * hh);
      ctx.closePath();
      ctx.fill();
    };
    ctx.save();
    upArrowIndex.forEach((idx, i) => arrow(idx, upArrowTip[i], 1, !!upArrowBig[i], "#ff0000"));
    downArrowIndex.forEach((idx, i) => arrow(idx, downArrowTip[i], -1, true, "#00c800"));
    ctx.restore();
  },
};

const volLegend: [string, string, number][] = [
  ["量柱", "#e0e0e0", -6], ["V5: 572.37", "#ffffff", 25], ["V35: 501.08", "#808080", 88], ["V135: 656.65", "#ff00ff", 158],
  ["量: 550.26", "#008888", 234], ["金: 226.32", "#ffffff", 295], ["倍: 0.90", "#ffff00", 357], ["HS: -", "#ff00ff", 404],
  ["虚: 1.50", "#008888", 436], ["总比: 34.17", "#803c9c", 483], ["行比: -", "#806080", 549], ["流: 13980.42", "#00ffff", 587],
  ["总: 17272.16", "#008888", 663], ["营: 0.00", "#ffffff", 736], ["增: -4.15", "#ffff00", 785], [": 289.43", "#ffff00", 838],
  ["ROE: 2.29", "#ff0f6e", 885], ["ROE年: -12.19", "#ff0f6e", 946], ["毛: 8.53", "#c0c0c0", 1030], ["息: 0.00", "#ff8080", 1077],
  ["公: 0.00", "#ff0000", 1125], ["未: 0.00", "#008888", 1171], ["DT1: 52.00", "#808080", 1218], ["DT2: 180.00", "#808080", 1283],
  ["DT3: 332.00", "#808080", 1355], ["S1: 0.62", "#808080", 1428], ["S2: 2.97", "#806a90", 1477.5], ["S3: 4.39", "#806a90", 1527],
  ["LT: 3.00", "#806a90", 1577],
];
const macdLegend: [string, string, number][] = [
  ["MACD'(12,26,9,20,0,8)", "#e0e0e0", -2], ["DIF: 8.99", "#ffffff", 123], ["DEA: 4.88", "#ffff00", 177], ["MACD: 8.21", "#ff00ff", 236],
  ["均价: 1059.82", "#0d7c8c", 305], ["ZF: 0.24", "#ff8080", 386], ["DF: -0.06", "#00ff00", 434], ["CJ: -0.00", "#ffff00", 490],
  ["L阳: 0.00", "#ff80ff", 543], ["L涨: 0.00", "#ff80ff", 597], ["L阴: 1.00", "#00ffff", 651], ["L跌: 1.00", "#00ffff", 705],
  ["Z连阳: 0.00", "#ff0000", 760], ["Z连涨: 1.00", "#ff0000", 825], ["Z连阴: 0.00", "#00ff00", 891], ["Z连跌: 0.00", "#00ff00", 958],
  [": 0.00", "#c0c0c0", 1025],
];
const headLegend: [string, string, number][] = [
  ["5/06/26/四", "#c0c0c0", 0], ["开1069.64", "#00e000", 59], ["高1071.35", "#00e000", 118], ["低1054.56", "#00e000", 180],
  ["收1057.66", "#00e000", 238], ["量550万", "#c0c000", 298], ["额226.3亿", "#c0c0c0", 347], ["幅-15.84(-1.48%)", "#00e000", 405],
];

function Label({ text, color, left, top, size = 12, bg }: any) {
  return (
    <div style={{ position: "absolute", left, top, color, background: bg, fontFamily: FONT, fontSize: size, lineHeight: "14px", whiteSpace: "nowrap" }}>
      {text}
    </div>
  );
}

function Rule({ top }: { top: number }) {
  return <div style={{ position: "absolute", left: 0, top, width: 2257, height: 1.5, background: AXIS }} />;
}

export default function App() {
  const priceRef = useRef<HTMLCanvasElement>(null);
  const volRef = useRef<HTMLCanvasElement>(null);
  const macdRef = useRef<HTMLCanvasElement>(null);

  useEffect(() => {
    document.body.style.margin = "0";
    document.body.style.background = "#000";
    const bodyColors = candleKinds.map((k) => (k === "U" ? "#000" : CYAN));
    const edgeColors = candleKinds.map((k) => (k === "U" ? RED : CYAN));

    const price = new Chart(priceRef.current!, {
      type: "bar",
      data: {
        labels,
        datasets: [
          {
            type: "line",
            data: pairs([178, 347], [supportLevel, supportLevel]),
            borderColor: "#ff00ff",
            borderWidth: 2,
            pointRadius: 0,
            order: 0,
          },
          {
            type: "line",
            data: pairs([294, 347], [resistanceLevel, resistanceLevel]),
            borderColor: "#ffffff",
            borderWidth: 3,
            pointRadius: 0,
            order: 0,
          },
          {
            data: highs.map((h, i) => [lows[i], h]),
            backgroundColor: edgeColors,
            barThickness: 1.4,
            grouped: false,
            order: 2,
          },
          {
            data: bodyTops.map((t, i) => [bodyBottoms[i], t]),
            backgroundColor: bodyColors,
            borderColor: edgeColors,
            borderWidth: 1.5,
            borderSkipped: false,
            barThickness: 5,
            grouped: false,
            order: 1,
          },
        ],
      },
      options: {
        ...base,
        layout: { padding: { left: 1.8, top: 0, right: 0, bottom: 0 }, autoPadding: false },
        scales: {
          x: { display: false, grid: { display: false } },
          y: yAxis(priceTicks, (v) => String(v), 644.8, 1136.7, 5),
        },
      },
      plugins: [priceMarks],
    } as any);

    const volFill: Record<string, string> = { r: "#000", p: "#000", c: CYAN, g: "#808080", b: "#0000ff" };
    const volEdge: Record<string, string> = { r: RED, p: "#ff1464", c: CYAN, g: "#808080", b: "#0000ff" };
    const volume = new Chart(volRef.current!, {
      type: "bar",
      data: {
        labels,
        datasets: [
          { type: "line", data: pairs(v135Index, v135Values), borderColor: "#ff00ff", borderWidth: 1.8, pointRadius: 0, order: 5 },
          { type: "line", data: pairs(v35Index, v35Values), borderColor: "#808080", borderWidth: 1.5, pointRadius: 0, order: 5 },
          { type: "line", data: pairs(v5Index, v5Values), borderColor: "#ffffff", borderWidth: 1.2, pointRadius: 0, order: 5 },
          {
            data: volumes,
            backgroundColor: volumeKinds.map((k) => volFill[k]),
            borderColor: volumeKinds.map((k) => volEdge[k]),
            borderWidth: 1.5,
            borderSkipped: false,
            barThickness: 5,
            grouped: false,
            order: 1,
          },
        ],
      },
      options: {
        ...base,
        layout: { padding: { left: 1.8, top: 0, right: 0, bottom: 0 }, autoPadding: false },
        scales: {
          x: { display: false, grid: { display: false } },
          y: yAxis(volumeTicks, (v) => volumeTickLabels[volumeTicks.indexOf(v)], -29.7, 2054.9, 5),
        },
      },
    } as any);

    const macd = new Chart(macdRef.current!, {
      type: "bar",
      data: {
        labels,
        datasets: [
          { type: "line", data: difValues, borderColor: "#ffffff", borderWidth: 1.1, pointRadius: 0, yAxisID: "ym", order: 0 },
          { type: "line", data: deaValues, borderColor: "#ffff00", borderWidth: 1.3, pointRadius: 0, yAxisID: "ym", order: 0 },
          { type: "line", data: pairs([0, 344], [0, 0]), borderColor: "#c8c8c8", borderWidth: 1.5, pointRadius: 0, yAxisID: "ym", order: 1 },
          {
            data: histValues,
            backgroundColor: histKinds.map((k) => histColor[k]),
            barThickness: 3,
            grouped: false,
            yAxisID: "ym",
            order: 2,
          },
        ],
      },
      options: {
        ...base,
        layout: { padding: { left: 1.8, top: 0, right: 0, bottom: 0 }, autoPadding: false },
        scales: {
          x: {
            afterFit: (s: any) => { s.height = 33; s.paddingLeft = 0; s.paddingRight = 0; },
            afterBuildTicks: (s: any) => { s.ticks = monthTickIndex.map((value) => ({ value })); },
            ticks: {
              callback: (v: number) => monthTickLabels[monthTickIndex.indexOf(v)],
              color: RED,
              font: { size: 13, family: FONT },
              autoSkip: false,
              maxRotation: 0,
              padding: 0,
            },
            grid: { drawOnChartArea: false, color: AXIS, tickLength: 4 },
            border: { color: AXIS, width: 1.5 },
          },
          ym: yAxis(macdTicks, (v) => v.toFixed(2), -68, 89.55, 0),
        },
      },
      plugins: [macdArrows],
    } as any);

    return () => {
      price.destroy();
      volume.destroy();
      macd.destroy();
    };
  }, []);

  const canvasStyle = (top: number): React.CSSProperties => ({ position: "absolute", left: -4, top, display: "block" });

  return (
    <div style={{ position: "fixed", left: 0, top: 0, width: 2257, height: 1394, overflow: "hidden", background: "#000" }}>
      <canvas ref={priceRef} width={CANVAS_W} height={824} style={canvasStyle(0)} />
      <canvas ref={volRef} width={CANVAS_W} height={281} style={canvasStyle(824)} />
      <canvas ref={macdRef} width={CANVAS_W} height={315} style={canvasStyle(1105)} />
      <Rule top={823.5} />
      <Rule top={1104.5} />
      {headLegend.map(([t, c, x]) => <Label key={t} text={t} color={c} left={x} top={-7} />)}
      {volLegend.map(([t, c, x]) => <Label key={t} text={t} color={c} left={x} top={826} />)}
      {macdLegend.map(([t, c, x]) => <Label key={t} text={t} color={c} left={x} top={1106} />)}
      <Label text="科创100" color="#ffff00" left={81} top={141} size={36} />
      <Label text="日线图" color="#ffff00" left={84} top={182} size={35} />
      <Label text="842.4" color="#a0a0ff" left={2214} top={478} size={11.5} bg="#000090" />
      <Label text="2024/09/23/一" color="#e0e0ff" left={913} top={1388} size={12} bg="#000080" />
      <Label text="日线" color="#c0c0c0" left={2228} top={1389} size={12} />
    </div>
  );
}
